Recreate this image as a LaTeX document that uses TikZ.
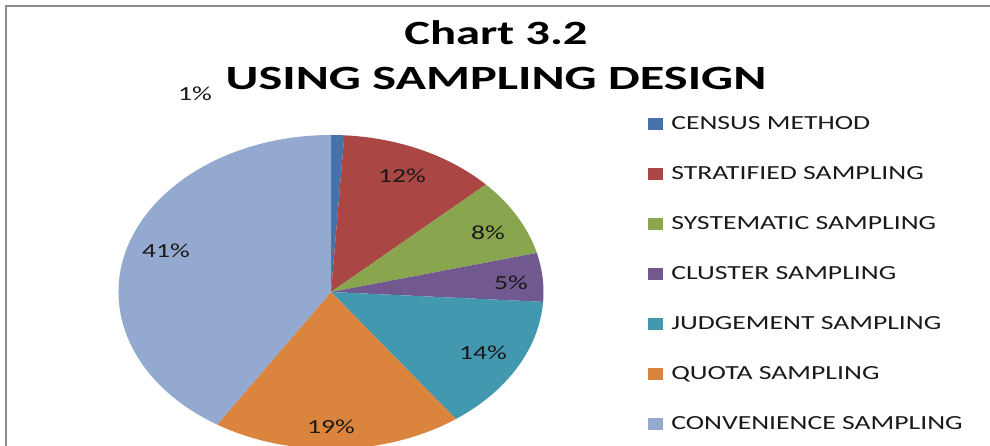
\documentclass[tikz,border=0pt]{standalone}
\usepackage{fontspec}
\setmainfont{Carlito}
\definecolor{cCensus}{HTML}{4572A7}
\definecolor{cStrat}{HTML}{AA4643}
\definecolor{cSyst}{HTML}{89A54E}
\definecolor{cClust}{HTML}{71588F}
\definecolor{cJudg}{HTML}{4198AF}
\definecolor{cQuota}{HTML}{DB843D}
\definecolor{cConv}{HTML}{93A9CF}
\definecolor{frameGray}{HTML}{8A8A8A}
\definecolor{txt}{HTML}{1A1A1A}
\begin{document}
\begin{tikzpicture}[x=1pt,y=1pt,
  titletext/.style={font=\fontsize{34}{34}\selectfont\bfseries, text=black, inner sep=0pt},
  legtext/.style={font=\fontsize{20}{20}\selectfont, text=txt, inner sep=0pt, anchor=base west, xscale=1.385},
  pct/.style={font=\fontsize{20}{20}\selectfont, text=txt, inner sep=0pt, xscale=1.38},
  legsq/.style={minimum width=15pt, minimum height=12pt, inner sep=0pt}]
\useasboundingbox (0,0) rectangle (990,446);
\clip (0,0) rectangle (990,446);
\fill[white] (0,0) rectangle (990,446);
% frame
\draw[frameGray, line width=2pt] (6,0) -- (6,439.5) -- (992,439.5);
% pie
\coordinate (C) at (331,154);
\def\rx{212.5}\def\ry{157}
\fill[cCensus] (C) -- ++(90:\rx pt and \ry pt) arc[start angle=90, end angle=86.4, x radius=\rx, y radius=\ry] -- cycle;
\fill[cStrat] (C) -- ++(86.4:\rx pt and \ry pt) arc[start angle=86.4, end angle=43.2, x radius=\rx, y radius=\ry] -- cycle;
\fill[cSyst] (C) -- ++(43.2:\rx pt and \ry pt) arc[start angle=43.2, end angle=14.4, x radius=\rx, y radius=\ry] -- cycle;
\fill[cClust] (C) -- ++(14.4:\rx pt and \ry pt) arc[start angle=14.4, end angle=-3.6, x radius=\rx, y radius=\ry] -- cycle;
\fill[cJudg] (C) -- ++(-3.6:\rx pt and \ry pt) arc[start angle=-3.6, end angle=-54, x radius=\rx, y radius=\ry] -- cycle;
\fill[cQuota] (C) -- ++(-54:\rx pt and \ry pt) arc[start angle=-54, end angle=-122.4, x radius=\rx, y radius=\ry] -- cycle;
\fill[cConv] (C) -- ++(-122.4:\rx pt and \ry pt) arc[start angle=-122.4, end angle=-270, x radius=\rx, y radius=\ry] -- cycle;
% percentage labels
\node[pct] (p1) at (195,352) {1\%};
\node[pct] (p12) at (402,270) {12\%};
\node[pct] (p8) at (488,213) {8\%};
\node[pct] (p5) at (511,163) {5\%};
\node[pct] (p14) at (483,93) {14\%};
\node[pct] (p19) at (331,19) {19\%};
\node[pct] (p41) at (166,195) {41\%};
% title
\node[titletext, anchor=base, xscale=1.43] (t1) at (496,401) {Chart 3.2};
\node[titletext, anchor=base, xscale=1.48] (t2) at (496,356) {USING SAMPLING DESIGN};
% legend
\node[legsq, fill=cCensus] (s1) at (655.5,322) {};
\node[legsq, fill=cStrat] (s2) at (655.5,272) {};
\node[legsq, fill=cSyst] (s3) at (655.5,222) {};
\node[legsq, fill=cClust] (s4) at (655.5,172) {};
\node[legsq, fill=cJudg] (s5) at (655.5,122) {};
\node[legsq, fill=cQuota] (s6) at (655.5,72) {};
\node[legsq, fill=cConv] (s7) at (655.5,22) {};
\node[legtext] (l1) at (671,316) {CENSUS METHOD};
\node[legtext] (l2) at (671,266) {STRATIFIED SAMPLING};
\node[legtext] (l3) at (671,216) {SYSTEMATIC SAMPLING};
\node[legtext] (l4) at (671,166) {CLUSTER SAMPLING};
\node[legtext] (l5) at (671,116) {JUDGEMENT SAMPLING};
\node[legtext] (l6) at (671,66) {QUOTA SAMPLING};
\node[legtext] (l7) at (671,16) {CONVENIENCE SAMPLING};
\end{tikzpicture}
\end{document}
